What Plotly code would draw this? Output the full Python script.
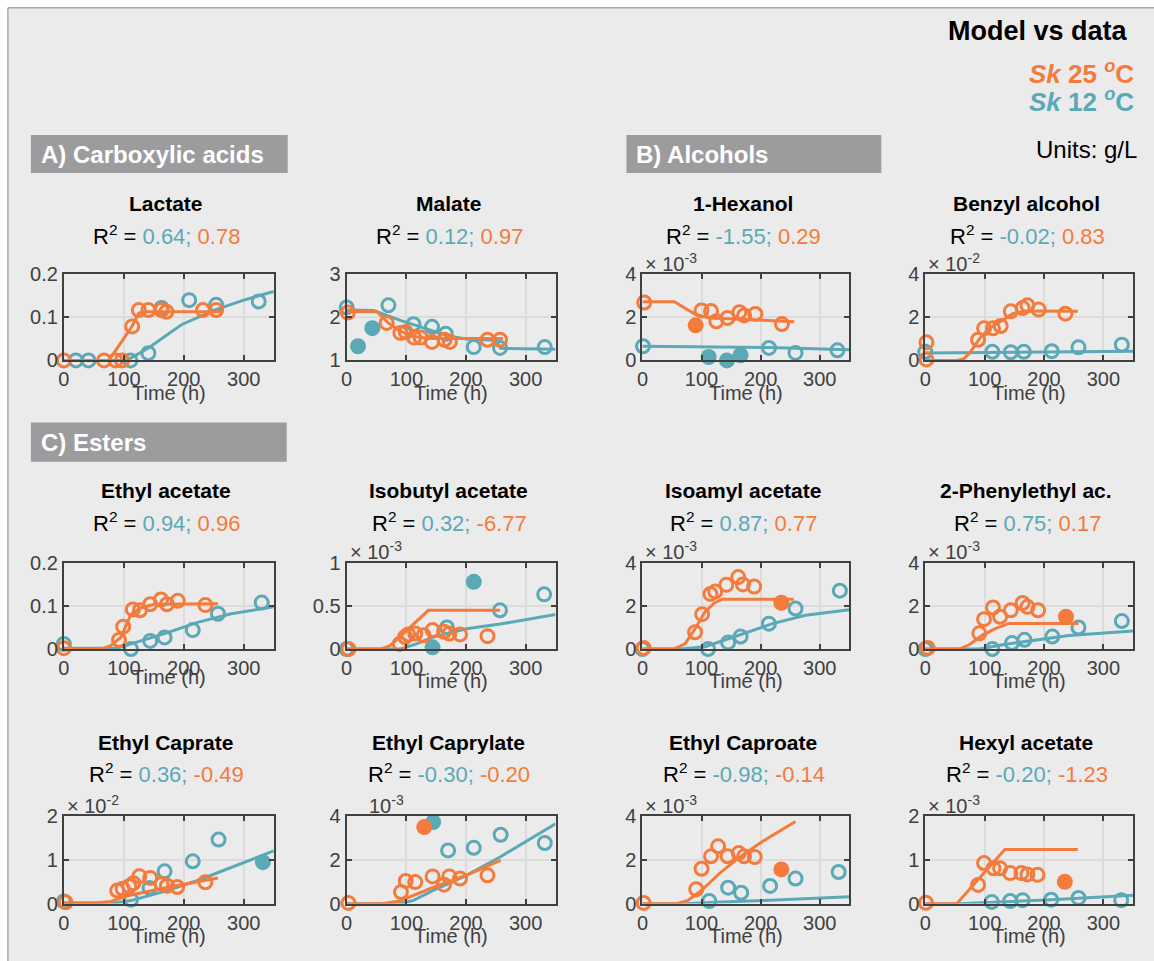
import plotly.graph_objects as go

W, H = 1154, 961
ORANGE = "#F47B3B"
TEAL = "#5BA8B7"
AXIS = "#404040"
FONT = "Arial, Liberation Sans, Helvetica, sans-serif"

time_ticks = [0, 100, 200, 300]

# ---------------- A) Carboxylic acids ----------------
lactate_m25 = [(0, 0), (75, 0), (114, 0.08), (125, 0.11), (135, 0.113), (262, 0.113)]
lactate_o25 = [(0, 0), (67, 0), (86, 0), (97, 0), (114, 0.079), (125, 0.117), (141, 0.117),
               (163, 0.117), (171, 0.113), (232, 0.117), (254, 0.117)]
lactate_f25 = []
lactate_m12 = [(0, 0), (105, 0), (120, 0.012), (141, 0.029), (196, 0.083), (251, 0.117),
               (300, 0.14), (350, 0.16)]
lactate_o12 = [(20, 0), (41, 0), (111, 0), (141, 0.017), (163, 0.122), (209, 0.14),
               (254, 0.129), (325, 0.137)]
lactate_f12 = []

malate_m25 = [(0, 2.13), (51, 2.13), (68, 1.89), (87, 1.70), (110, 1.56), (138, 1.51), (262, 1.51)]
malate_o25 = [(2, 2.11), (67, 1.87), (90, 1.64), (99, 1.66), (113, 1.53), (124, 1.53), (143, 1.43),
              (164, 1.48), (173, 1.43), (236, 1.48), (257, 1.48)]
malate_f25 = []
malate_m12 = [(0, 2.17), (45, 2.16), (90, 1.93), (135, 1.72), (170, 1.57), (200, 1.5), (250, 1.47),
              (258, 1.28), (350, 1.26)]
malate_o12 = [(0, 2.23), (70, 2.28), (112, 1.84), (143, 1.78), (166, 1.62), (213, 1.31),
              (257, 1.29), (332, 1.31)]
malate_f12 = [(19, 1.33), (43, 1.75)]

# ---------------- B) Alcohols ----------------
hexanol_m25 = [(0, 2.73), (54, 2.73), (90, 2.13), (113, 1.97), (257, 1.80)]
hexanol_o25 = [(3, 2.69), (100, 2.32), (116, 2.29), (125, 1.82), (144, 1.97), (164, 2.24),
               (172, 2.09), (191, 2.16), (236, 1.69)]
hexanol_f25 = [(90, 1.63)]
hexanol_m12 = [(0, 0.66), (214, 0.6), (350, 0.5)]
hexanol_o12 = [(1, 0.66), (214, 0.58), (259, 0.35), (330, 0.47)]
hexanol_f12 = [(112, 0.16), (143, 0.0), (166, 0.24)]

benzyl_m25 = [(0, 0), (53, 0), (65, 0.08), (75, 0.35), (92, 1.03), (108, 1.49), (130, 1.87),
              (147, 2.17), (169, 2.3), (190, 2.3), (257, 2.28)]
benzyl_o25 = [(2, 0.84), (2, 0.05), (89, 0.96), (99, 1.49), (114, 1.49), (127, 1.6), (144, 2.28),
              (164, 2.43), (172, 2.56), (191, 2.36), (236, 2.17)]
benzyl_f25 = []
benzyl_m12 = [(0, 0.35), (170, 0.38), (350, 0.43)]
benzyl_o12 = [(0, 0.4), (113, 0.4), (144, 0.38), (166, 0.4), (213, 0.43), (258, 0.61), (331, 0.73)]
benzyl_f12 = []

# ---------------- C) Esters ----------------
etac_m25 = [(0, 0), (62, 0), (78, 0.008), (95, 0.027), (112, 0.081), (129, 0.096), (151, 0.104),
            (257, 0.105)]
etac_o25 = [(0, 0.002), (92, 0.021), (99, 0.052), (115, 0.092), (127, 0.09), (144, 0.104),
            (162, 0.115), (172, 0.104), (190, 0.112), (236, 0.102)]
etac_f25 = []
etac_m12 = [(0, 0.002), (89, 0.002), (112, 0.012), (168, 0.036), (223, 0.062), (279, 0.082),
            (350, 0.098)]
etac_o12 = [(0, 0.012), (112, 0), (144, 0.019), (168, 0.027), (215, 0.044), (257, 0.082),
            (330, 0.108)]
etac_f12 = []

isobut_m25 = [(0, 0), (56, 0), (73, 0.04), (89, 0.14), (112, 0.29), (137, 0.45), (257, 0.45)]
isobut_o25 = [(3, 0), (89, 0.06), (98, 0.14), (103, 0.17), (115, 0.18), (129, 0.16), (144, 0.22),
              (163, 0.2), (172, 0.18), (190, 0.17), (236, 0.15)]
isobut_f25 = []
isobut_m12 = [(0, 0), (89, 0), (117, 0.06), (145, 0.14), (201, 0.235), (257, 0.29), (350, 0.4)]
isobut_o12 = [(0, 0), (168, 0.25), (257, 0.45), (331, 0.635)]
isobut_f12 = [(144, 0.02), (213, 0.78)]

isoam_m25 = [(0, 0), (53, 0), (72, 0.24), (89, 0.94), (106, 1.73), (122, 2.15), (135, 2.31),
             (256, 2.31)]
isoam_o25 = [(2, 0.05), (89, 0.78), (101, 1.62), (115, 2.56), (123, 2.67), (142, 2.98),
             (162, 3.34), (170, 3.0), (189, 2.9)]
isoam_f25 = [(235, 2.15)]
isoam_m12 = [(0, 0), (64, 0), (106, 0.11), (163, 0.63), (220, 1.18), (276, 1.57), (350, 1.83)]
isoam_o12 = [(0, 0), (111, 0), (145, 0.31), (166, 0.58), (214, 1.18), (259, 1.88), (334, 2.71)]
isoam_f12 = []

phenyl_m25 = [(0, 0), (57, 0), (74, 0.2), (97, 0.66), (119, 0.96), (141, 1.19), (258, 1.19)]
phenyl_o25 = [(4, 0.05), (91, 0.73), (99, 1.39), (114, 1.93), (126, 1.5), (144, 1.8), (164, 2.14),
              (172, 1.96), (190, 1.8)]
phenyl_f25 = [(237, 1.5)]
phenyl_m12 = [(0, 0), (91, 0), (130, 0.2), (186, 0.43), (242, 0.63), (350, 0.84)]
phenyl_o12 = [(0, 0), (113, 0), (146, 0.28), (167, 0.43), (214, 0.58), (258, 1.0), (331, 1.3)]
phenyl_f12 = []

caprate_m25 = [(0, 0.02), (56, 0.02), (78, 0.05), (112, 0.2), (168, 0.36), (223, 0.5), (257, 0.59)]
caprate_o25 = [(3, 0.03), (89, 0.3), (98, 0.34), (109, 0.4), (116, 0.47), (126, 0.63), (144, 0.59),
               (163, 0.45), (172, 0.41), (189, 0.38), (236, 0.49)]
caprate_f25 = []
caprate_m12 = [(0, 0), (78, 0), (112, 0.07), (168, 0.28), (223, 0.53), (279, 0.83), (350, 1.21)]
caprate_o12 = [(0, 0.05), (112, 0.09), (143, 0.36), (168, 0.74), (215, 0.97), (258, 1.47)]
caprate_f12 = [(332, 0.95)]

caprylate_m25 = [(0, 0), (60, 0), (89, 0.12), (110, 0.35), (150, 0.8), (200, 1.3), (258, 1.98)]
caprylate_o25 = [(3, 0.03), (91, 0.53), (99, 1.04), (115, 0.99), (144, 1.25), (163, 0.87),
                 (172, 1.25), (190, 1.15), (236, 1.3)]
caprylate_f25 = [(130, 3.51)]
caprylate_m12 = [(0, 0), (89, 0), (112, 0.15), (145, 0.61), (201, 1.3), (257, 2.14), (350, 3.66)]
caprylate_o12 = [(170, 2.44), (213, 2.56), (258, 3.16), (332, 2.78)]
caprylate_f12 = [(145, 3.74)]

caproate_m25 = [(0, 0), (58, 0), (77, 0.15), (100, 0.61), (133, 1.45), (161, 2.06), (201, 2.82),
                (259, 3.77)]
caproate_o25 = [(2, 0.03), (91, 0.66), (100, 1.6), (116, 2.17), (128, 2.63), (144, 2.17),
                (163, 2.32), (172, 2.17), (190, 2.14)]
caproate_f25 = [(235, 1.57)]
caproate_m12 = [(0, 0), (72, 0), (133, 0.08), (217, 0.15), (350, 0.31)]
caproate_o12 = [(113, 0.12), (145, 0.73), (167, 0.5), (216, 0.81), (259, 1.15), (332, 1.45)]
caproate_f12 = []

hexyl_m25 = [(0, 0), (53, 0), (134, 1.24), (257, 1.24)]
hexyl_o25 = [(1, 0.02), (89, 0.43), (99, 0.93), (115, 0.81), (126, 0.81), (143, 0.7), (162, 0.7),
             (172, 0.67), (189, 0.66)]
hexyl_f25 = [(235, 0.5)]
hexyl_m12 = [(0, 0), (56, 0), (128, 0.04), (212, 0.09), (350, 0.19)]
hexyl_o12 = [(112, 0.04), (143, 0.06), (164, 0.08), (212, 0.09), (258, 0.13), (330, 0.08)]
hexyl_f12 = []

# R^2 values (12 oC; 25 oC)
r2_values = {
    "Lactate": ("0.64", "0.78"), "Malate": ("0.12", "0.97"),
    "1-Hexanol": ("-1.55", "0.29"), "Benzyl alcohol": ("-0.02", "0.83"),
    "Ethyl acetate": ("0.94", "0.96"), "Isobutyl acetate": ("0.32", "-6.77"),
    "Isoamyl acetate": ("0.87", "0.77"), "2-Phenylethyl ac.": ("0.75", "0.17"),
    "Ethyl Caprate": ("0.36", "-0.49"), "Ethyl Caprylate": ("-0.30", "-0.20"),
    "Ethyl Caproate": ("-0.98", "-0.14"), "Hexyl acetate": ("-0.20", "-1.23"),
}

# y tick labels per panel (in displayed units) and the power of ten they are shown in
panels = [
    ("Lactate", 0, 0, 0, [0, 0.1, 0.2], ["0", "0.1", "0.2"], [0, 0.2],
     lactate_m25, lactate_o25, lactate_f25, lactate_m12, lactate_o12, lactate_f12),
    ("Malate", 0, 1, 0, [1, 2, 3], ["1", "2", "3"], [1, 3],
     malate_m25, malate_o25, malate_f25, malate_m12, malate_o12, malate_f12),
    ("1-Hexanol", 0, 2, -3, [0, 2, 4], ["0", "2", "4"], [0, 4],
     hexanol_m25, hexanol_o25, hexanol_f25, hexanol_m12, hexanol_o12, hexanol_f12),
    ("Benzyl alcohol", 0, 3, -2, [0, 2, 4], ["0", "2", "4"], [0, 4],
     benzyl_m25, benzyl_o25, benzyl_f25, benzyl_m12, benzyl_o12, benzyl_f12),
    ("Ethyl acetate", 1, 0, 0, [0, 0.1, 0.2], ["0", "0.1", "0.2"], [0, 0.2],
     etac_m25, etac_o25, etac_f25, etac_m12, etac_o12, etac_f12),
    ("Isobutyl acetate", 1, 1, -3, [0, 0.5, 1], ["0", "0.5", "1"], [0, 1],
     isobut_m25, isobut_o25, isobut_f25, isobut_m12, isobut_o12, isobut_f12),
    ("Isoamyl acetate", 1, 2, -3, [0, 2, 4], ["0", "2", "4"], [0, 4],
     isoam_m25, isoam_o25, isoam_f25, isoam_m12, isoam_o12, isoam_f12),
    ("2-Phenylethyl ac.", 1, 3, -3, [0, 2, 4], ["0", "2", "4"], [0, 4],
     phenyl_m25, phenyl_o25, phenyl_f25, phenyl_m12, phenyl_o12, phenyl_f12),
    ("Ethyl Caprate", 2, 0, -2, [0, 1, 2], ["0", "1", "2"], [0, 2],
     caprate_m25, caprate_o25, caprate_f25, caprate_m12, caprate_o12, caprate_f12),
    ("Ethyl Caprylate", 2, 1, -3, [0, 2, 4], ["0", "2", "4"], [0, 4],
     caprylate_m25, caprylate_o25, caprylate_f25, caprylate_m12, caprylate_o12, caprylate_f12),
    ("Ethyl Caproate", 2, 2, -3, [0, 2, 4], ["0", "2", "4"], [0, 4],
     caproate_m25, caproate_o25, caproate_f25, caproate_m12, caproate_o12, caproate_f12),
    ("Hexyl acetate", 2, 3, -3, [0, 1, 2], ["0", "1", "2"], [0, 2],
     hexyl_m25, hexyl_o25, hexyl_f25, hexyl_m12, hexyl_o12, hexyl_f12),
]

# pixel layout of the grid (screen pixels)
col_px = [(64, 274), (347, 556), (643, 850), (926, 1134)]
row_px = [(274, 360), (562, 648), (815, 902)]
# distance of the name line and the R^2 line above each row's axes
title_gap = [71, 72, 74]
r2_gap = [39, 41, 43]

# the page shows the figure slightly inset and squeezed; these constants convert
# screen pixels into figure pixels
SX, OX = 0.9955, 6.1
SY, OY = 0.975, 11.3


def px(x):
    return ((x - OX) / SX) / W


def py(y):
    return 1 - ((y - OY) / SY) / H


def note(x, y, text, size, color, xanchor="center", **kw):
    return dict(x=px(x), y=py(y), xref="paper", yref="paper", text=text, showarrow=False,
                xanchor=xanchor, yanchor="middle",
                font=dict(family=FONT, size=size, color=color), **kw)


fig = go.Figure()
annotations = []
shapes = []

# light-grey canvas with a thin frame on its top and left edges
shapes.append(dict(type="rect", xref="paper", yref="paper", x0=px(8), x1=px(1170), y0=py(975),
                   y1=py(8), fillcolor="#EBEBEC", line=dict(width=0), layer="below"))
shapes.append(dict(type="line", xref="paper", yref="paper", x0=px(8), x1=px(1170), y0=py(8),
                   y1=py(8), line=dict(color="#A8A8A8", width=1.5), layer="below"))
shapes.append(dict(type="line", xref="paper", yref="paper", x0=px(8), x1=px(8), y0=py(975),
                   y1=py(8), line=dict(color="#A8A8A8", width=1.5), layer="below"))


def add_series(pts, scale, ax, color, kind):
    if not pts:
        return
    xs = [p[0] for p in pts]
    ys = [p[1] * scale for p in pts]
    if kind == "line":
        fig.add_trace(go.Scatter(x=xs, y=ys, mode="lines", line=dict(color=color, width=3),
                                 xaxis=ax[0], yaxis=ax[1], showlegend=False, hoverinfo="skip",
                                 cliponaxis=False))
    elif kind == "open":
        fig.add_trace(go.Scatter(x=xs, y=ys, mode="markers",
                                 marker=dict(symbol="circle-open", size=13, color=color,
                                             line=dict(color=color, width=3)),
                                 xaxis=ax[0], yaxis=ax[1], showlegend=False, cliponaxis=False))
    else:
        fig.add_trace(go.Scatter(x=xs, y=ys, mode="markers",
                                 marker=dict(symbol="circle", size=16, color=color,
                                             line=dict(width=0)),
                                 xaxis=ax[0], yaxis=ax[1], showlegend=False, cliponaxis=False))


layout_axes = {}
for i, (name, r, c, exp, yt, ytt, yr, m25, o25, f25, m12, o12, f12) in enumerate(panels):
    k = "" if i == 0 else str(i + 1)
    xa, ya = "x" + k, "y" + k
    scale = 10.0 ** exp
    x0, x1 = col_px[c]
    y0, y1 = row_px[r]
    common = dict(showline=True, linecolor=AXIS, linewidth=2, mirror="ticks", ticks="inside",
                  ticklen=5, tickwidth=1.5, tickcolor=AXIS, showgrid=True, gridcolor="#DCDCDC",
                  gridwidth=1.5, zeroline=False, tickfont=dict(family=FONT, size=20, color=AXIS),
                  fixedrange=True)
    layout_axes["xaxis" + k] = dict(common, domain=[px(x0), px(x1)], range=[0, 350],
                                    tickvals=time_ticks, ticktext=[str(t) for t in time_ticks],
                                    anchor=ya)
    layout_axes["yaxis" + k] = dict(common, domain=[py(y1), py(y0)],
                                    range=[yr[0] * scale, yr[1] * scale],
                                    tickvals=[v * scale for v in yt], ticktext=ytt, anchor=xa)

    ax = (xa, ya)
    add_series(m12, scale, ax, TEAL, "line")
    add_series(o12, scale, ax, TEAL, "open")
    add_series(f12, scale, ax, TEAL, "filled")
    add_series(m25, scale, ax, ORANGE, "line")
    add_series(o25, scale, ax, ORANGE, "open")
    add_series(f25, scale, ax, ORANGE, "filled")

    cx = (x0 + x1) / 2
    r12, r25 = r2_values[name]
    annotations.append(note(cx - 3, y0 - title_gap[r], "<b>%s</b>" % name, 21, "black"))
    annotations.append(note(
        cx - 2, y0 - r2_gap[r],
        "R<sup>2</sup> = <span style='color:%s'>%s;</span> <span style='color:%s'>%s</span>"
        % (TEAL, r12, ORANGE, r25), 22, "black"))
    off = 28 if name == "Ethyl acetate" else 32
    annotations.append(note(cx, y1 + off, "Time (h)", 20, AXIS))
    if exp != 0:
        if name == "Ethyl Caprylate":
            etxt, ex = "10<sup>%d</sup>" % exp, x0 + 20
        else:
            etxt, ex = "\u00d7 10<sup>%d</sup>" % exp, x0 + 1
        annotations.append(note(ex, y0 - 12, etxt, 20, AXIS, xanchor="left"))

# section headers
for label, bx0, by0, bx1, by1 in [("A) Carboxylic acids", 31, 135, 288, 173),
                                  ("B) Alcohols", 627, 135, 882, 173),
                                  ("C) Esters", 31, 422, 287, 461)]:
    shapes.append(dict(type="rect", xref="paper", yref="paper", x0=px(bx0), x1=px(bx1),
                       y0=py(by1), y1=py(by0), fillcolor="#9C9C9F", line=dict(width=0)))
    annotations.append(note(bx0 + 8, (by0 + by1) / 2, "<b>%s</b>" % label, 24, "white",
                            xanchor="left"))

# key in the upper right corner
annotations += [
    note(1131, 31, "<b>Model vs data</b>", 27, "black", xanchor="right"),
    note(1137, 73, "<b><i>Sk</i> 25 <sup><i>o</i></sup>C</b>", 26, ORANGE, xanchor="right"),
    note(1137, 101, "<b><i>Sk</i> 12 <sup><i>o</i></sup>C</b>", 26, TEAL, xanchor="right"),
    note(1140, 150, "Units: g/L", 24, "black", xanchor="right"),
]

fig.update_layout(width=W, height=H, autosize=False, margin=dict(l=0, r=0, t=0, b=0),
                  paper_bgcolor="white", plot_bgcolor="white", showlegend=False,
                  annotations=annotations, shapes=shapes, **layout_axes)

fig.write_html("out.html", config={"displayModeBar": False},
               post_script="document.body.style.margin='0';")
